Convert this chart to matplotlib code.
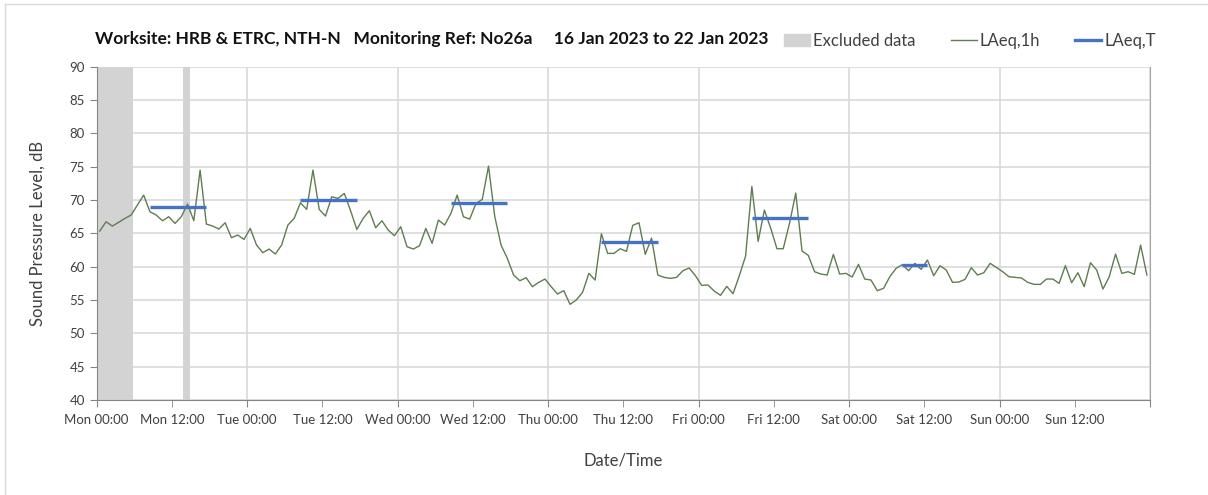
import numpy as np
import matplotlib
matplotlib.use("Agg")
import matplotlib.pyplot as plt
from matplotlib.lines import Line2D
from matplotlib.patches import Patch

plt.rcParams['font.family'] = ['Lato', 'DejaVu Sans']

# hourly LAeq,1h values, Mon 00:00 .. Sun 23:00
laeq_1h = [
    65.35, 66.75, 66.1, 66.65, 67.25, 67.75, 69.25, 70.75, 68.25, 67.75, 66.9, 67.5,
    66.5, 67.5, 69.4, 66.9, 74.5, 66.4, 66.1, 65.65, 66.6, 64.35, 64.75, 64.1,
    65.75, 63.25, 62.1, 62.65, 61.9, 63.25, 66.25, 67.25, 69.6, 68.6, 74.5, 68.6,
    67.6, 70.5, 70.25, 71.0, 68.4, 65.6, 67.25, 68.4, 65.85, 66.9, 65.5, 64.65,
    66.0, 63.0, 62.65, 63.15, 65.75, 63.5, 67.0, 66.25, 68.0, 70.75, 67.5, 67.15,
    69.5, 70.1, 75.1, 67.5, 63.25, 61.25, 58.75, 57.9, 58.35, 57.0, 57.65, 58.15,
    57.0, 55.9, 56.4, 54.35, 55.0, 56.15, 59.0, 58.0, 64.95, 62.0, 62.0, 62.7,
    62.3, 66.2, 66.6, 61.85, 64.3, 58.75, 58.4, 58.25, 58.4, 59.4, 59.8, 58.65,
    57.2, 57.25, 56.35, 55.7, 57.05, 55.95, 58.65, 61.6, 72.05, 63.8, 68.5, 65.8,
    62.7, 62.7, 66.5, 71.05, 62.35, 61.7, 59.25, 58.9, 58.75, 61.85, 58.9, 59.0,
    58.45, 60.35, 58.15, 58.0, 56.4, 56.75, 58.5, 59.75, 60.3, 59.4, 60.5, 59.6,
    61.0, 58.65, 60.15, 59.5, 57.65, 57.7, 58.1, 59.85, 58.75, 59.1, 60.5, 59.9,
    59.25, 58.5, 58.4, 58.3, 57.65, 57.35, 57.35, 58.15, 58.15, 57.5, 60.15, 57.6,
    59.1, 57.0, 60.6, 59.5, 56.65, 58.5, 61.9, 59.0, 59.25, 58.85, 63.25, 58.75,
]
hours = np.arange(len(laeq_1h)) + 0.5

# LAeq,T periods (hour index start/end) and levels
lt_start = [8, 32, 56, 80, 104, 128]
lt_end = [17, 41, 65, 89, 113, 132]
lt_level = [69.0, 70.0, 69.55, 63.7, 67.3, 60.3]

# excluded data periods (hours)
excl_start = [0.0, 13.85]
excl_end = [5.85, 14.9]

days = ["Mon", "Tue", "Wed", "Thu", "Fri", "Sat", "Sun"]

fig = plt.figure(figsize=(12.08, 4.95), dpi=100)
ax = fig.add_axes([0.080, 0.192, 0.872, 0.673])

for s, e in zip(excl_start, excl_end):
    ax.axvspan(s, e, color='#d3d3d3', lw=0, zorder=1)

ax.plot(hours, laeq_1h, color='#5f7d50', lw=1.0, zorder=3)
for s, e, v in zip(lt_start, lt_end, lt_level):
    ax.plot([s + 0.5, e + 0.5], [v, v], color='#4472c4', lw=2.4, zorder=4,
            solid_capstyle='butt')

ax.set_xlim(0, 168)
ax.set_ylim(40, 90)
ax.set_yticks(np.arange(40, 91, 5))
ax.set_xticks(np.arange(0, 169, 24))
ax.set_xticklabels([d + " 00:00" for d in days] + [""])
ax.set_xticks(np.arange(12, 168, 24), minor=True)
ax.set_xticklabels([d + " 12:00" for d in days], minor=True)

ax.grid(True, which='major', color='#d9d9d9', lw=1.2, zorder=0)
ax.set_axisbelow(True)
for sp in ['left', 'bottom']:
    ax.spines[sp].set_color('#868686')
for sp in ['top', 'right']:
    ax.spines[sp].set_color('#a6a6a6')
ax.spines['top'].set_visible(False)
ax.tick_params(axis='both', which='both', colors='#868686', labelcolor='#404040',
               labelsize=9.5, length=5, direction='out')
ax.tick_params(axis='x', which='both', pad=5)

ax.set_ylabel("Sound Pressure Level, dB", fontsize=12, color='#404040', labelpad=17)
ax.set_xlabel("Date/Time", fontsize=12, color='#404040', labelpad=19)

fig.text(0.079, 0.922, "Worksite: HRB & ETRC, NTH-N   Monitoring Ref: No26a     "
         "16 Jan 2023 to 22 Jan 2023", fontsize=12.5, fontweight='bold',
         color='#111111', va='center')

handles = [Patch(color='#d3d3d3'),
           Line2D([], [], color='#5f7d50', lw=1.0),
           Line2D([], [], color='#4472c4', lw=2.4)]
fig.legend(handles, ["Excluded data", "LAeq,1h", "LAeq,T"], ncol=3,
           loc='center right', bbox_to_anchor=(0.957, 0.918), frameon=False,
           fontsize=12, handlelength=1.55, handletextpad=0.2, columnspacing=2.1,
           borderpad=0, borderaxespad=0, labelcolor='#404040')

# chart area border (left/top edges)
fig.add_artist(Line2D([0.004, 0.004], [0, 0.992], color='#d9d9d9', lw=1))
fig.add_artist(Line2D([0.004, 1], [0.992, 0.992], color='#d9d9d9', lw=1))

fig.savefig("out.png", dpi=100)
